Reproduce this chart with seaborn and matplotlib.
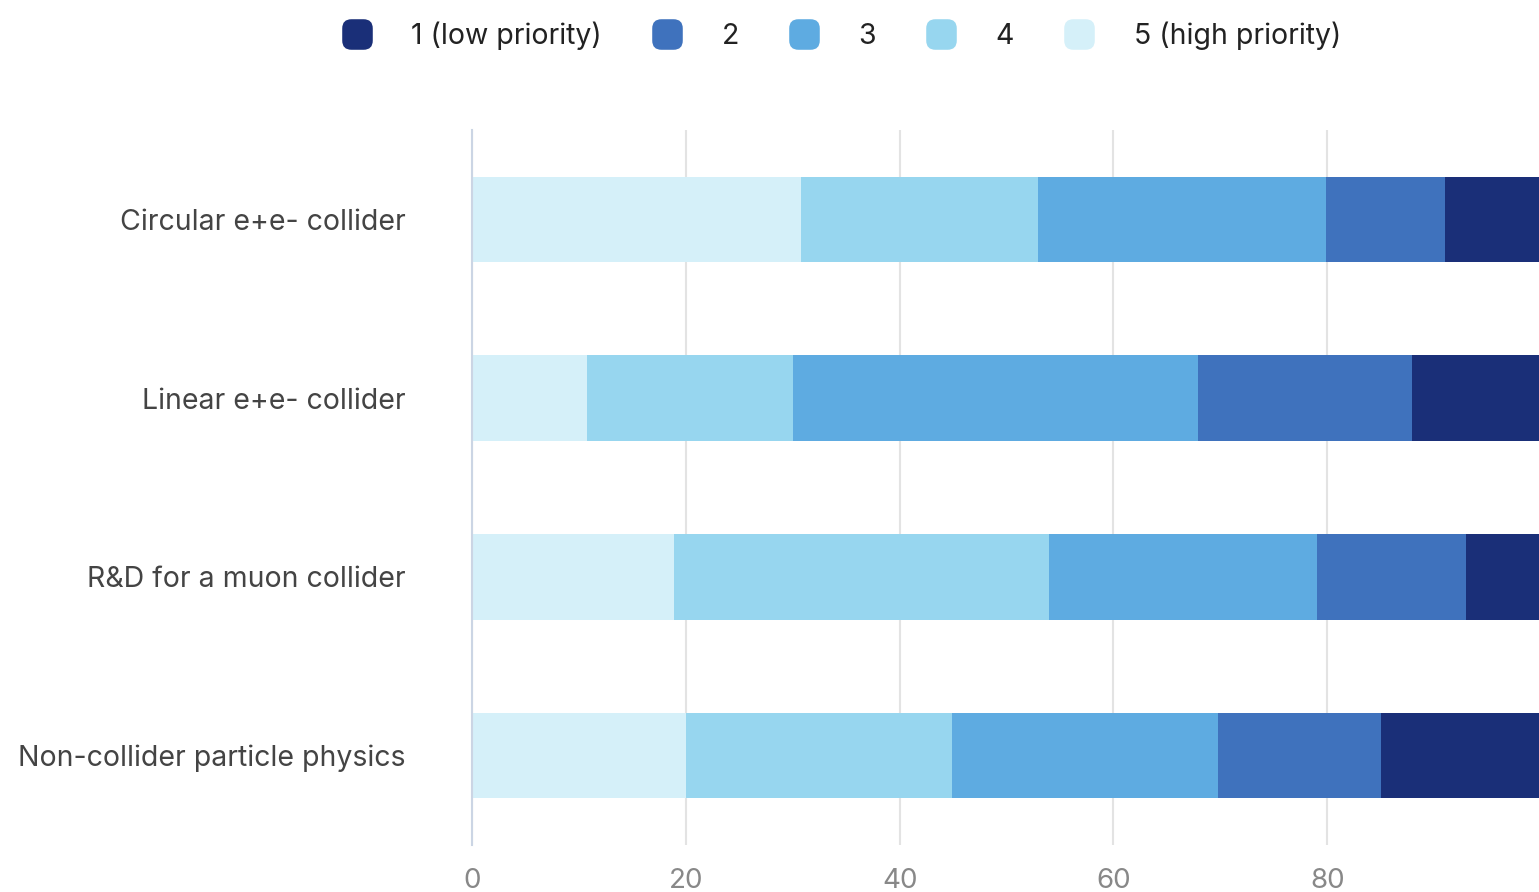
import numpy as np
import pandas as pd
import matplotlib
matplotlib.use('Agg')
import matplotlib.pyplot as plt
from matplotlib.patches import FancyBboxPatch
from matplotlib.lines import Line2D
import seaborn as sns

# data (percent of responses per priority level)
categories = ['Circular e+e- collider', 'Linear e+e- collider',
              'R&D for a muon collider', 'Non-collider particle physics']
priority_labels = ['1 (low priority)', '2', '3', '4', '5 (high priority)']
p1 = [9.0, 12.1, 7.0, 15.0]
p2 = [11.1, 20.0, 14.0, 15.2]
p3 = [27.0, 37.9, 25.0, 24.9]
p4 = [22.1, 19.2, 35.1, 24.9]
p5 = [30.8, 10.8, 18.9, 20.0]
colors = ['#1a2f78', '#3f72bd', '#5eabe1', '#97d6ef', '#d5f0f9']

sns.set_theme(style='white')
plt.rcParams['font.family'] = ['Inter', 'DejaVu Sans']

fig = plt.figure(figsize=(15.39, 8.92), dpi=100)
ax = fig.add_axes([0.3067, 0.053, 0.6933, 0.801])

# stacked from left: 5, 4, 3, 2, 1 -> draw cumulative totals, widest first
series = [p1, p2, p3, p4, p5]
df = pd.DataFrame({'category': categories})
for i in range(5):
    cum = np.sum(np.array(series[i:]), axis=0)
    df['cum'] = cum
    sns.barplot(data=df, x='cum', y='category', color=colors[i], saturation=1,
                width=0.48, orient='h', ax=ax, linewidth=0, zorder=2)

ax.set_xlim(0, 99.8)
ax.set_ylim(3.5, -0.5)
ax.set_xticks([0, 20, 40, 60, 80])
ax.set_xlabel('')
ax.set_ylabel('')
ax.grid(axis='x', color='#e3e3e3', linewidth=1.5, zorder=0)
ax.set_axisbelow(True)
for s in ['top', 'right', 'bottom']:
    ax.spines[s].set_visible(False)
ax.spines['left'].set_color('#cbd5e4')
ax.spines['left'].set_linewidth(1.5)
ax.tick_params(axis='y', length=0, pad=48, labelsize=20.5, labelcolor='#444444')
ax.tick_params(axis='x', length=0, pad=17, labelsize=20, labelcolor='#888888')

# rounded square legend markers
box = FancyBboxPatch((-0.5, -0.5), 1, 1, boxstyle='round,pad=0,rounding_size=0.3')
rsq = box.get_path()
handles = [Line2D([], [], linestyle='none', marker=rsq, markersize=22,
                  markerfacecolor=c, markeredgewidth=0) for c in colors]
fig.legend(handles, priority_labels, loc='center', bbox_to_anchor=(0.547, 0.96),
           ncol=5, frameon=False, fontsize=20.5, handlelength=1.0,
           handletextpad=1.4, columnspacing=1.8, labelcolor='#222222')

fig.savefig('out.png', dpi=100)
